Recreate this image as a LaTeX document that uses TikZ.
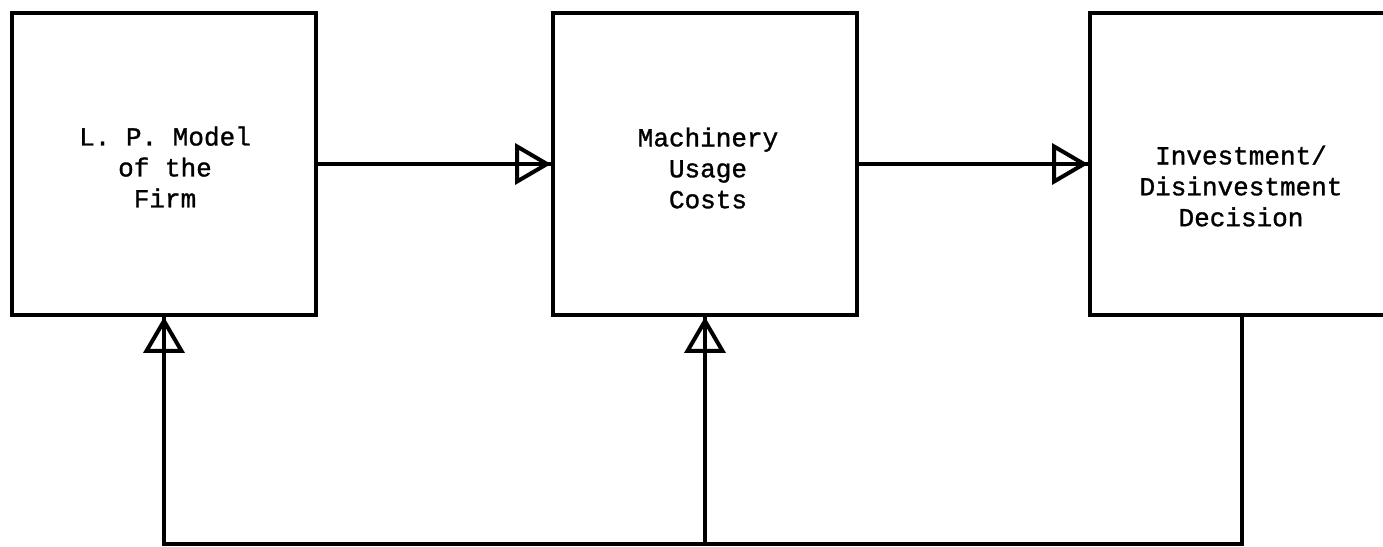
\documentclass[tikz,border=0pt]{standalone}
\usepackage{fontspec}
\setmainfont{Liberation Mono}[FakeBold=1.2]
\usetikzlibrary{arrows.meta}

\begin{document}
\begin{tikzpicture}[x=0.02cm,y=-0.02cm, line width=0.08cm,
    every node/.style={font=\fontsize{14.8}{17.6}\selectfont},
    block/.style={draw,minimum width=6.08cm,minimum height=6.04cm,inner sep=0pt},
    blocktext/.style={align=center,inner sep=0pt},
    flow/.style={-{Triangle[open,length=0.72cm,width=0.82cm]},postaction={draw,-}}]
  \useasboundingbox (0,0) rectangle (1383,547);
  \clip (0,0) rectangle (1383,547);
  \node[block] (lp) at (164,164) {};
  \node[block] (mach) at (705,164) {};
  \node[block] (dec) at (1242,164) {};
  \node[blocktext] (lptext) at (165,167) {L. P. Model\\of the\\Firm};
  \node[blocktext] (machtext) at (708,168) {Machinery\\Usage\\Costs};
  \node[blocktext] (dectext) at (1241,186) {Investment/\\Disinvestment\\Decision};
  \draw[flow] (lp.east) -- (mach.west);
  \draw[flow] (mach.east) -- (dec.west);
  % feedback loop
  \coordinate (fb) at (705,544);
  \draw (dec.south) |- (fb);
  \draw[flow] (fb) -| (lp.south);
  \draw[flow] (fb) -- (mach.south);
\end{tikzpicture}
\end{document}
